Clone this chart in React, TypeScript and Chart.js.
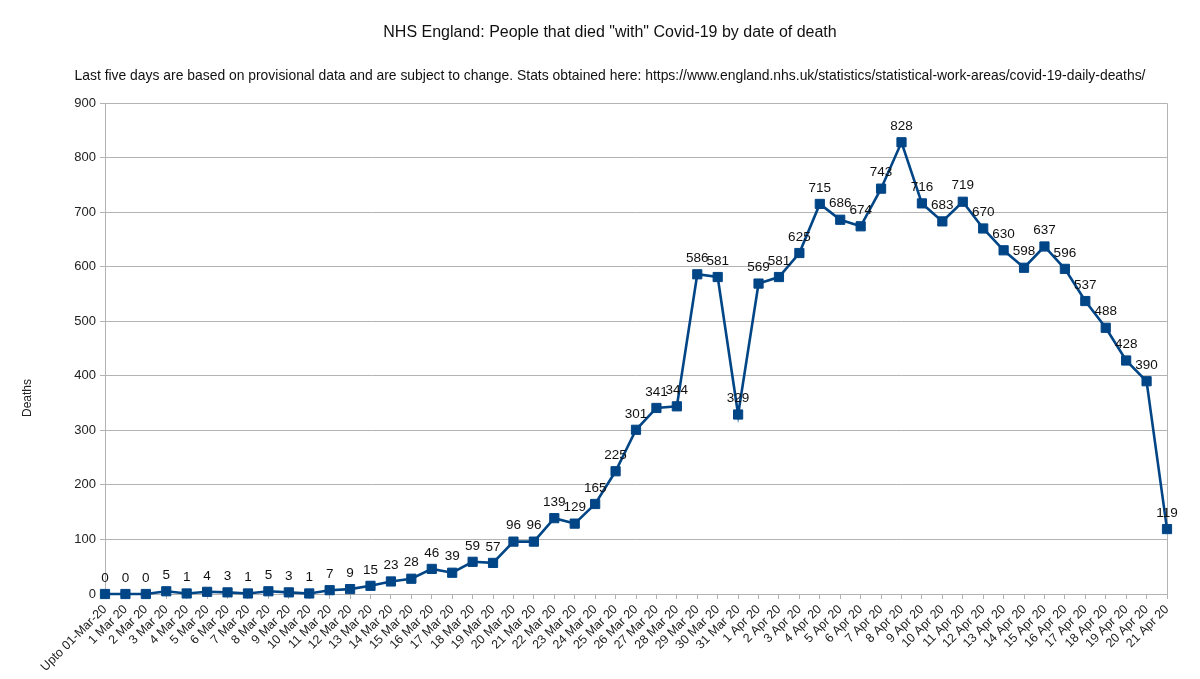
import React, { useEffect, useRef } from "react";
import { Chart, registerables } from "chart.js";

Chart.register(...registerables);

const TITLE = 'NHS England: People that died "with" Covid-19 by date of death';
const SUBTITLE =
  "Last five days are based on provisional data and are subject to change. Stats obtained here: https://www.england.nhs.uk/statistics/statistical-work-areas/covid-19-daily-deaths/";
const Y_TITLE = "Deaths";

const categories = [
  "Upto 01-Mar-20",
  "1 Mar 20", "2 Mar 20", "3 Mar 20", "4 Mar 20", "5 Mar 20", "6 Mar 20", "7 Mar 20",
  "8 Mar 20", "9 Mar 20", "10 Mar 20", "11 Mar 20", "12 Mar 20", "13 Mar 20", "14 Mar 20",
  "15 Mar 20", "16 Mar 20", "17 Mar 20", "18 Mar 20", "19 Mar 20", "20 Mar 20", "21 Mar 20",
  "22 Mar 20", "23 Mar 20", "24 Mar 20", "25 Mar 20", "26 Mar 20", "27 Mar 20", "28 Mar 20",
  "29 Mar 20", "30 Mar 20", "31 Mar 20",
  "1 Apr 20", "2 Apr 20", "3 Apr 20", "4 Apr 20", "5 Apr 20", "6 Apr 20", "7 Apr 20",
  "8 Apr 20", "9 Apr 20", "10 Apr 20", "11 Apr 20", "12 Apr 20", "13 Apr 20", "14 Apr 20",
  "15 Apr 20", "16 Apr 20", "17 Apr 20", "18 Apr 20", "19 Apr 20", "20 Apr 20", "21 Apr 20",
];

const deaths = [
  0, 0, 0, 5, 1, 4, 3, 1, 5, 3, 1, 7, 9, 15, 23, 28, 46, 39, 59, 57, 96, 96, 139, 129,
  165, 225, 301, 341, 344, 586, 581, 329, 569, 581, 625, 715, 686, 674, 743, 828, 716,
  683, 719, 670, 630, 598, 637, 596, 537, 488, 428, 390, 119,
];

const Y_MIN = 0;
const Y_MAX = 900;
const Y_STEP = 100;

const FONT = "'Liberation Sans', Arial, sans-serif";
const LINE_COLOR = "#004586";
const GRID_COLOR = "#b3b3b3";

const decorPlugin = {
  id: "decor",
  afterDatasetsDraw(chart: any) {
    const ctx = chart.ctx;
    const area = chart.chartArea;
    ctx.save();
    // value labels
    const meta = chart.getDatasetMeta(0);
    const data = chart.data.datasets[0].data;
    ctx.fillStyle = "#111";
    ctx.font = `13.5px ${FONT}`;
    ctx.textAlign = "center";
    ctx.textBaseline = "middle";
    meta.data.forEach((pt: any, i: number) => {
      ctx.fillText(String(data[i]), pt.x, pt.y - 16);
    });
    ctx.restore();
  },
  beforeDatasetsDraw(chart: any) {
    const ctx = chart.ctx;
    const area = chart.chartArea;
    ctx.save();
    ctx.strokeStyle = GRID_COLOR;
    ctx.lineWidth = 1;
    ctx.beginPath();
    ctx.moveTo(area.left, area.top + 0.5);
    ctx.lineTo(area.right + 0.5, area.top + 0.5);
    ctx.lineTo(area.right + 0.5, area.bottom);
    ctx.stroke();
    ctx.restore();
  },
  afterDraw(chart: any) {
    const ctx = chart.ctx;
    ctx.save();
    ctx.fillStyle = "#111";
    ctx.textAlign = "center";
    ctx.textBaseline = "middle";
    ctx.font = `16px ${FONT}`;
    ctx.fillText(TITLE, 610, 33);
    ctx.font = `13.9px ${FONT}`;
    ctx.fillText(SUBTITLE, 610, 76);
    ctx.translate(28, 398);
    ctx.rotate(-Math.PI / 2);
    ctx.font = `12px ${FONT}`;
    ctx.fillStyle = "#222";
    ctx.fillText(Y_TITLE, 0, 0);
    ctx.restore();
  },
};

export default function App() {
  const canvasRef = useRef<HTMLCanvasElement | null>(null);

  useEffect(() => {
    if (!canvasRef.current) return;
    const chart = new Chart(canvasRef.current, {
      type: "line",
      data: {
        labels: categories,
        datasets: [
          {
            data: deaths,
            borderColor: LINE_COLOR,
            backgroundColor: LINE_COLOR,
            borderWidth: 2.6,
            pointStyle: "rect",
            pointRadius: 6.5,
            pointBorderWidth: 1,
            pointBorderColor: LINE_COLOR,
            pointBackgroundColor: LINE_COLOR,
            tension: 0,
            fill: false,
            clip: false,
          },
        ],
      },
      options: {
        responsive: false,
        animation: false,
        devicePixelRatio: 1,
        layout: { padding: { top: 103, left: 0, right: 33, bottom: 0 } },
        plugins: {
          legend: { display: false },
          title: { display: false },
          tooltip: { enabled: false },
        },
        scales: {
          x: {
            type: "category",
            offset: false,
            grid: {
              drawOnChartArea: false,
              drawTicks: true,
              tickLength: 5,
              color: GRID_COLOR,
            },
            border: { color: GRID_COLOR },
            ticks: {
              autoSkip: false,
              maxRotation: 45,
              minRotation: 45,
              padding: 3,
              color: "#222",
              font: { family: FONT, size: 12.5 },
            },
            afterFit: (s: any) => {
              s.height = 85;
            },
          },
          y: {
            min: Y_MIN,
            max: Y_MAX,
            grid: {
              color: GRID_COLOR,
              drawTicks: true,
              tickLength: 5,
            },
            border: { color: GRID_COLOR },
            ticks: {
              stepSize: Y_STEP,
              padding: 4,
              color: "#222",
              font: { family: FONT, size: 13 },
            },
            title: { display: false },
            afterFit: (s: any) => {
              s.width = 105;
            },
          },
        },
      },
      plugins: [decorPlugin],
    });
    return () => chart.destroy();
  }, []);

  return (
    <div style={{ position: "absolute", left: 0, top: 0, width: 1200, height: 679, background: "#fff" }}>
      <canvas ref={canvasRef} width={1200} height={679} style={{ width: 1200, height: 679 }} />
    </div>
  );
}
